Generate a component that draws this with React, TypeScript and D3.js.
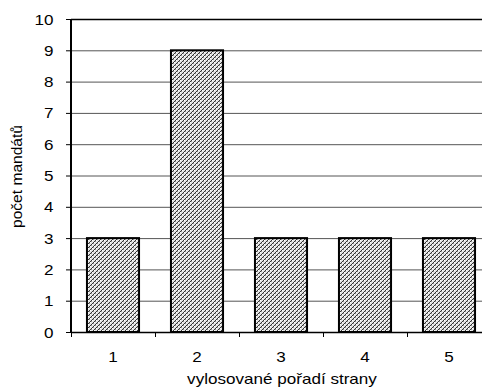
import React from "react";
import * as d3 from "d3";

const categories = ["1", "2", "3", "4", "5"];
const values = [3, 9, 3, 3, 3];
const yTicks = [0, 1, 2, 3, 4, 5, 6, 7, 8, 9, 10];
const xTitle = "vylosované pořadí strany";
const yTitle = "počet mandátů";

export default function App() {
  const W = 482, H = 392;
  const left = 71, top = 19, bottom = 332;
  const band = 84;
  const sx = 1.22;
  const x = d3.scaleBand<string>().domain(categories).range([left, left + band * categories.length]).paddingInner(0.38).paddingOuter(0.19);
  const y = d3.scaleLinear().domain([0, 10]).range([bottom, top]);
  const font = "Liberation Sans, Arial, sans-serif";
  const edges = d3.range(categories.length + 1).map((i) => left + i * band);
  return (
    <svg width={W} height={H} style={{ position: "absolute", left: 0, top: 0, background: "#fff" }}>
      <defs>
        <pattern id="hatch" patternUnits="userSpaceOnUse" width={4} height={4}>
          <rect width={4} height={4} fill="#e4e4e4" />
          <rect x={0} y={3} width={1} height={1} fill="#333" />
          <rect x={1} y={2} width={1} height={1} fill="#333" />
          <rect x={2} y={1} width={1} height={1} fill="#333" />
          <rect x={3} y={0} width={1} height={1} fill="#333" />
          <rect x={1} y={3} width={1} height={1} fill="#999" />
          <rect x={3} y={1} width={1} height={1} fill="#999" />
          <rect x={0} y={0} width={1} height={1} fill="#fff" />
          <rect x={2} y={2} width={1} height={1} fill="#fff" />
        </pattern>
      </defs>
      {yTicks.map((t) => (
        <g key={t}>
          {t > 0 && (
            <line x1={left} x2={W} y1={y(t) + 0.5} y2={y(t) + 0.5} stroke={t === 10 ? "#000" : "#555"} strokeWidth={t === 10 ? 1.5 : 1} />
          )}
          <line x1={left - 5} x2={left} y1={y(t) + 0.5} y2={y(t) + 0.5} stroke="#000" />
          <text transform={`translate(53.5,${y(t) + 5.5}) scale(${sx},1)`} textAnchor="end" fontFamily={font} fontSize={14} fill="#000">{t}</text>
        </g>
      ))}
      {categories.map((c, i) => (
        <rect key={c} x={x(c)!} y={y(values[i])} width={x.bandwidth()} height={bottom - y(values[i])} fill="url(#hatch)" stroke="#000" strokeWidth={2} />
      ))}
      <line x1={left} x2={left} y1={top} y2={bottom} stroke="#000" strokeWidth={2} />
      <line x1={left} x2={W} y1={bottom + 0.5} y2={bottom + 0.5} stroke="#000" strokeWidth={1.5} />
      {edges.map((e, i) => (
        <line key={i} x1={e + 0.5} x2={e + 0.5} y1={bottom} y2={bottom + 5} stroke="#000" />
      ))}
      {categories.map((c) => (
        <text key={c} transform={`translate(${x(c)! + x.bandwidth() / 2},362) scale(${sx},1)`} textAnchor="middle" fontFamily={font} fontSize={14} fill="#000">{c}</text>
      ))}
      <text transform={`translate(282,383.5) scale(${sx},1)`} textAnchor="middle" fontFamily={font} fontSize={14} fill="#000">{xTitle}</text>
      <text transform={`translate(22,228) rotate(-90)`} textLength={103} lengthAdjust="spacingAndGlyphs" fontFamily={font} fontSize={14} fill="#000">{yTitle}</text>
    </svg>
  );
}
